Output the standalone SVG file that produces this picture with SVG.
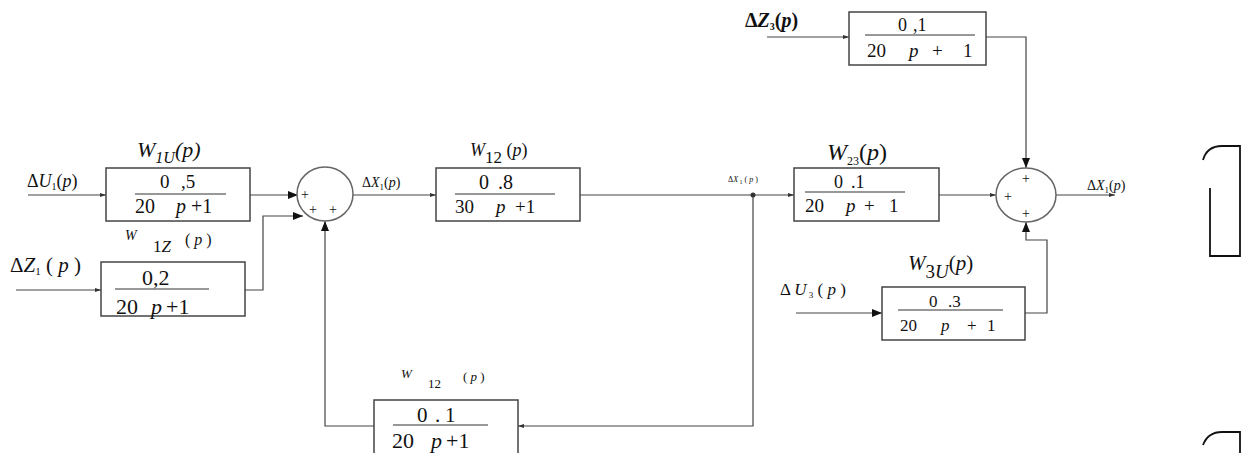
<svg xmlns="http://www.w3.org/2000/svg" width="1253" height="453" viewBox="0 0 1253 453">
<defs>
<marker id="ah" markerWidth="10" markerHeight="8" refX="10" refY="4" orient="auto" markerUnits="userSpaceOnUse"><path d="M0,0 L10,4 L0,8 z" fill="#111"/></marker>
<marker id="as" markerWidth="6" markerHeight="4" refX="6" refY="2" orient="auto" markerUnits="userSpaceOnUse"><path d="M0,0 L6,2 L0,4 z" fill="#333"/></marker>
</defs>
<style>
.box{fill:#fff;stroke:#444;stroke-width:1.5}
.ln{fill:none;stroke:#444;stroke-width:1.2}
.fr{stroke:#333;stroke-width:1.2}
.t{font-family:"Liberation Serif","Times New Roman",serif;fill:#111}
.i{font-style:italic}
.pl{font-family:"Liberation Serif",serif;font-size:14px;fill:#111;text-anchor:middle}
.sum{fill:#fff;stroke:#666;stroke-width:1.5}
</style>
<rect width="1253" height="453" fill="#fff"/>

<g id="connectors">
<path class="ln" d="M28,195 H106" marker-end="url(#as)"/>
<path class="ln" d="M16,290 H101" marker-end="url(#as)"/>
<path class="ln" d="M250,195 H298" marker-end="url(#ah)"/>
<path class="ln" d="M245,290 H263 V216 H303" marker-end="url(#ah)"/>
<path class="ln" d="M353,195 H436" marker-end="url(#as)"/>
<path class="ln" d="M580,195 H794" marker-end="url(#as)"/>
<path class="ln" d="M753,195 V426 H518" marker-end="url(#as)"/>
<path class="ln" d="M374,426 H325 V221" marker-end="url(#ah)"/>
<circle cx="753" cy="195" r="2.5" fill="#333"/>
<path class="ln" d="M939,195 H996" marker-end="url(#as)"/>
<path class="ln" d="M767,37 H849" marker-end="url(#as)"/>
<path class="ln" d="M986,37 H1026 V168" marker-end="url(#ah)"/>
<path class="ln" d="M796,313 H882" marker-end="url(#ah)"/>
<path class="ln" d="M1025,313 H1047 V240 H1026 V222" marker-end="url(#ah)"/>
<path class="ln" d="M1056,195 H1115" marker-end="url(#as)"/>
</g>

<g id="W1U">
<rect class="box" x="106" y="168" width="144" height="53"/>
<line class="fr" x1="135" y1="194" x2="226" y2="194"/>
<text class="t" y="188" font-size="19"><tspan x="160">0</tspan><tspan x="181">,5</tspan></text>
<text class="t" y="213" font-size="20"><tspan x="135">20</tspan><tspan x="176" class="i">p</tspan><tspan x="191">+1</tspan></text>
<text class="t i" x="137" y="157" font-size="22">W<tspan font-size="16" dy="6">1U</tspan><tspan dy="-6">(p)</tspan></text>
<text class="t" x="27" y="187" font-size="18">Δ<tspan class="i">U</tspan><tspan font-size="10" dy="3">1</tspan><tspan dy="-3">(<tspan class="i">p</tspan>)</tspan></text>
</g>

<g id="W1Z">
<rect class="box" x="101" y="262" width="144" height="54"/>
<line class="fr" x1="115" y1="289" x2="209" y2="289"/>
<text class="t" x="142" y="285" font-size="22">0,2</text>
<text class="t" y="314" font-size="22"><tspan x="116">20</tspan><tspan x="151" class="i">p</tspan><tspan x="166">+1</tspan></text>
<text class="t i" x="125" y="240" font-size="14">W</text>
<text class="t" x="153" y="252" font-size="17">1<tspan class="i">Z</tspan></text>
<text class="t" x="185" y="245" font-size="16">( <tspan class="i">p</tspan> )</text>
<text class="t" x="10" y="272" font-size="21">Δ<tspan class="i">Z</tspan><tspan font-size="11" dy="3">1</tspan><tspan dy="-3"> ( <tspan class="i">p</tspan> )</tspan></text>
</g>

<g id="sum1">
<ellipse class="sum" cx="325" cy="194" rx="28" ry="27"/>
<text class="pl" x="305" y="199">+</text>
<text class="pl" x="313" y="214">+</text>
<text class="pl" x="333" y="214">+</text>
<text class="t" x="362" y="187" font-size="14">Δ<tspan class="i">X</tspan><tspan font-size="9" dy="3">1</tspan><tspan dy="-3">(<tspan class="i">p</tspan>)</tspan></text>
</g>

<g id="W12">
<rect class="box" x="436" y="168" width="144" height="53"/>
<line class="fr" x1="455" y1="194" x2="555" y2="194"/>
<text class="t" y="189" font-size="20"><tspan x="479">0</tspan><tspan x="498">.8</tspan></text>
<text class="t" y="213" font-size="19"><tspan x="455">30</tspan><tspan x="496" class="i">p</tspan><tspan x="515">+1</tspan></text>
<text class="t i" x="470" y="156" font-size="18">W<tspan font-size="17" font-style="normal" dy="7">12</tspan><tspan dy="-7" font-style="normal"> (<tspan class="i">p</tspan>)</tspan></text>
<text class="t" x="728" y="182" font-size="8">Δ<tspan class="i">X</tspan><tspan font-size="6" dy="2"> 1</tspan><tspan dy="-2"> ( <tspan class="i">p</tspan> )</tspan></text>
</g>

<g id="W23">
<rect class="box" x="794" y="168" width="145" height="53"/>
<line class="fr" x1="805" y1="192" x2="905" y2="192"/>
<text class="t" y="188" font-size="18"><tspan x="834">0</tspan><tspan x="851">.1</tspan></text>
<text class="t" y="212" font-size="19"><tspan x="805">20</tspan><tspan x="846" class="i">p</tspan><tspan x="864">+</tspan><tspan x="889">1</tspan></text>
<text class="t i" x="827" y="160" font-size="24">W<tspan font-size="12" font-style="normal" dy="5">23</tspan><tspan dy="-5" font-style="normal">(<tspan class="i">p</tspan>)</tspan></text>
</g>

<g id="W3Z">
<rect class="box" x="849" y="12" width="137" height="53"/>
<line class="fr" x1="865" y1="35" x2="975" y2="35"/>
<text class="t" y="31" font-size="18"><tspan x="898">0</tspan><tspan x="913">,1</tspan></text>
<text class="t" y="57" font-size="19"><tspan x="867">20</tspan><tspan x="909" class="i">p</tspan><tspan x="932">+</tspan><tspan x="963">1</tspan></text>
<text class="t" x="745" y="27" font-size="20" font-weight="bold">Δ<tspan class="i">Z</tspan><tspan font-size="10" dy="3">3</tspan><tspan dy="-3">(<tspan class="i">p</tspan>)</tspan></text>
</g>

<g id="sum2">
<ellipse class="sum" cx="1026" cy="195" rx="30" ry="27"/>
<text class="pl" x="1026" y="183">+</text>
<text class="pl" x="1008" y="201">+</text>
<text class="pl" x="1026" y="218">+</text>
<text class="t" x="1087" y="190" font-size="14">Δ<tspan class="i">X</tspan><tspan font-size="9" dy="3">1</tspan><tspan dy="-3">(<tspan class="i">p</tspan>)</tspan></text>
</g>

<g id="W3U">
<rect class="box" x="882" y="287" width="143" height="53"/>
<line class="fr" x1="898" y1="310" x2="1003" y2="310"/>
<text class="t" y="307" font-size="17"><tspan x="929">0</tspan><tspan x="948">.3</tspan></text>
<text class="t" y="331" font-size="17"><tspan x="900">20</tspan><tspan x="941" class="i">p</tspan><tspan x="967">+</tspan><tspan x="987">1</tspan></text>
<text class="t i" x="908" y="270" font-size="21">W<tspan font-size="19" font-style="normal" dy="8">3<tspan class="i">U</tspan></tspan><tspan dy="-8" font-style="normal">(<tspan class="i">p</tspan>)</tspan></text>
<text class="t" x="780" y="295" font-size="17">Δ <tspan class="i">U</tspan><tspan font-size="9" dy="3"> 3</tspan><tspan dy="-3"> ( <tspan class="i">p</tspan> )</tspan></text>
</g>

<g id="W12fb">
<rect class="box" x="374" y="400" width="144" height="60"/>
<line class="fr" x1="393" y1="425" x2="488" y2="425"/>
<text class="t" y="422" font-size="21"><tspan x="417">0</tspan><tspan x="435">.</tspan><tspan x="445">1</tspan></text>
<text class="t" y="448" font-size="22"><tspan x="392">20</tspan><tspan x="431" class="i">p</tspan><tspan x="446">+1</tspan></text>
<text class="t i" x="401" y="378" font-size="13">W</text>
<text class="t" x="428" y="388" font-size="13">12</text>
<text class="t" x="463" y="381" font-size="13">(  <tspan class="i">p</tspan>  )</text>
</g>

<g id="bracket">
<path d="M1203,160 Q1207,146 1222,146 H1240 V256 H1210 V188" fill="none" stroke="#111" stroke-width="1.8"/>
<path d="M1203,445 Q1208,432 1222,432 H1240 V453" fill="none" stroke="#111" stroke-width="1.8"/>
</g>
</svg>
